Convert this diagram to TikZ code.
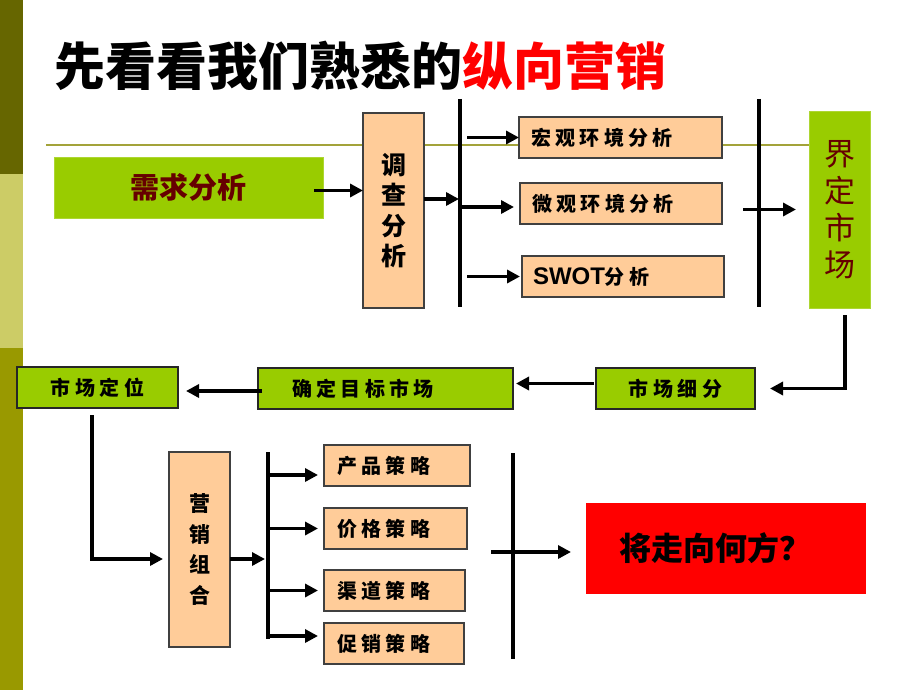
\documentclass[tikz,border=0pt]{standalone}
\usepackage{fontspec}
\usetikzlibrary{arrows.meta}
\setmainfont{Noto Sans CJK SC}
\newfontfamily\calfont{Noto Sans CJK SC}[LetterSpace=22]
\newfontfamily\latfont{Liberation Sans}
\definecolor{barA}{HTML}{666600}
\definecolor{barB}{HTML}{CCCC66}
\definecolor{barC}{HTML}{999900}
\definecolor{ruleC}{HTML}{A3A33A}
\definecolor{greenC}{HTML}{99CC00}
\definecolor{peachC}{HTML}{FFCC99}
\definecolor{maroonC}{HTML}{660000}
\definecolor{redC}{HTML}{FF0000}
\definecolor{edgeC}{HTML}{404040}
\tikzset{
  box/.style={anchor=north west, inner sep=0pt, outer sep=0pt},
  peachbox/.style={box, fill=peachC, draw=edgeC, line width=1.2pt},
  greenbox/.style={box, fill=greenC, draw=greenC!80!white, line width=0.8pt},
  greenrow/.style={box, fill=greenC, draw=black!85, line width=1.2pt},
  caltext/.style={font=\calfont\bfseries\fontsize{20}{22}\selectfont},
  bar/.style={line width=4pt, black},
  arr/.style={line width=3.4pt, black, -{Triangle[length=13pt,width=13pt]}},
}
\begin{document}
\begin{tikzpicture}[x=1pt,y=-1pt]
\useasboundingbox (0,0) rectangle (920,690);
% left decorative bar
\fill[barA] (0,0) rectangle (23,174);
\fill[barB] (0,174) rectangle (23,348);
\fill[barC] (0,348) rectangle (23,690);
% olive rule
\draw[ruleC, line width=2pt] (46,145) -- (810,145);
% title
\node[anchor=west, inner sep=0pt] (title) at (54,66)
  {\bfseries\fontsize{51}{56}\selectfont 先看看我们熟悉的\textcolor{redC}{纵向营销}};
% top row
\node[greenbox, minimum width=269pt, minimum height=61pt, text=maroonC,
      font=\bfseries\fontsize{29}{32}\selectfont] (xq) at (54,157) {需求分析};
\node[peachbox, minimum width=61pt, minimum height=195pt, align=center,
      font=\bfseries\fontsize{25}{30.5}\selectfont] (dc) at (363,113) {调\\查\\分\\析};
\coordinate (b1t) at (460,99);
\coordinate (b1b) at (460,307);
\draw[bar] (b1t) -- (b1b);
\node[peachbox, caltext, text width=179pt, inner xsep=12pt, minimum height=41pt, align=left] (m1) at (519,117) {宏观环境分析};
\node[peachbox, caltext, text width=178pt, inner xsep=12pt, minimum height=41pt, align=left] (m2) at (520,183) {微观环境分析};
\node[peachbox, caltext, text width=180pt, inner xsep=11pt, minimum height=41pt, align=left] (m3) at (522,256) {{\latfont\bfseries\fontsize{24}{26}\selectfont SWOT}分析};
\coordinate (b2t) at (759,99);
\coordinate (b2b) at (759,307);
\draw[bar] (b2t) -- (b2b);
\node[greenbox, minimum width=61pt, minimum height=197pt, align=center, text=maroonC,
      font=\fontsize{31}{37}\selectfont] (jd) at (809,111) {界\\定\\市\\场};
% top arrows
\draw[arr] ([xshift=-9pt,yshift=-3pt]xq.east) -- ([yshift=-3pt]xq.east -| dc.west);
\draw[arr] ([yshift=11.5pt]dc.east) -- ([yshift=11.5pt,xshift=-1pt]dc.east -| b1t);
\draw[arr] ([xshift=-52pt]m1.west) -- (m1.west);
\draw[arr] ([yshift=-3.5pt]b1t |- m2.west) -- ([xshift=-6pt,yshift=-3.5pt]m2.west);
\draw[arr] ([xshift=-55pt]m3.west) -- ([xshift=-2pt]m3.west);
\draw[arr] ([xshift=-66pt]jd.west) -- ([xshift=-13pt]jd.west);
% middle row
\node[greenrow, caltext, minimum width=159pt, minimum height=41pt] (sf) at (596,368) {市场细分};
\node[greenrow, caltext, text width=187pt, inner xsep=34pt, minimum height=41pt, align=left] (qd) at (258,368) {确定目标市场};
\node[greenrow, caltext, minimum width=161pt, minimum height=41pt] (sw) at (17,367) {市场定位};
\draw[arr] ([xshift=5.5pt,yshift=-7pt]jd.south) |- ([xshift=15pt]sf.east);
\draw[arr] ([xshift=-2pt,yshift=5pt]sf.west) -- ([xshift=3pt,yshift=5pt]sf.west -| qd.east);
\draw[arr] ([xshift=4pt,yshift=-2.5pt]qd.west) -- ([xshift=8pt,yshift=-2.5pt]qd.west -| sw.east);
% bottom part
\node[peachbox, minimum width=61pt, minimum height=195pt, align=center,
      font=\calfont\bfseries\fontsize{21}{30.5}\selectfont] (yx) at (169,452) {营\\销\\组\\合};
\draw[arr] ([xshift=-5.5pt,yshift=-7pt]sw.south) |- ([xshift=-6pt,yshift=-9.5pt]yx.west);
\coordinate (b3t) at (268,452);
\coordinate (b3b) at (268,639);
\draw[bar] (b3t) -- (b3b);
\draw[arr] ([yshift=-9.5pt]yx.east) -- ([yshift=-9.5pt,xshift=-3pt]yx.east -| b3t);
\node[peachbox, caltext, text width=120pt, inner xsep=13pt, minimum height=41pt, align=left] (p1) at (324,445) {产品策略};
\node[peachbox, caltext, text width=117pt, inner xsep=13pt, minimum height=41pt, align=left] (p2) at (324,508) {价格策略};
\node[peachbox, caltext, text width=115pt, inner xsep=13pt, minimum height=41pt, align=left] (p3) at (324,570) {渠道策略};
\node[peachbox, caltext, text width=114pt, inner xsep=13pt, minimum height=41pt, align=left] (p4) at (324,623) {促销策略};
\draw[arr] ([yshift=-9.5pt]b3t |- p1.west) -- ([xshift=-6pt,yshift=-9.5pt]p1.west);
\draw[arr] (b3t |- p2.west) -- ([xshift=-6pt]p2.west);
\draw[arr] (b3t |- p3.west) -- ([xshift=-6pt]p3.west);
\draw[arr] ([yshift=7.5pt]b3t |- p4.west) -- ([xshift=-6pt,yshift=7.5pt]p4.west);
\coordinate (b4t) at (513,453);
\coordinate (b4b) at (513,659);
\draw[bar] (b4t) -- (b4b);
\node[box, fill=redC, text width=280pt, inner xsep=0pt, inner ysep=0pt, minimum height=91pt, align=left,
      font=\bfseries\fontsize{32}{34}\selectfont] (rb) at (586,503) {\hspace*{33pt}将走向何方？};
\draw[arr] ([xshift=-95pt,yshift=-3.5pt]rb.west) -- ([xshift=-15pt,yshift=-3.5pt]rb.west);
\end{tikzpicture}
\end{document}
